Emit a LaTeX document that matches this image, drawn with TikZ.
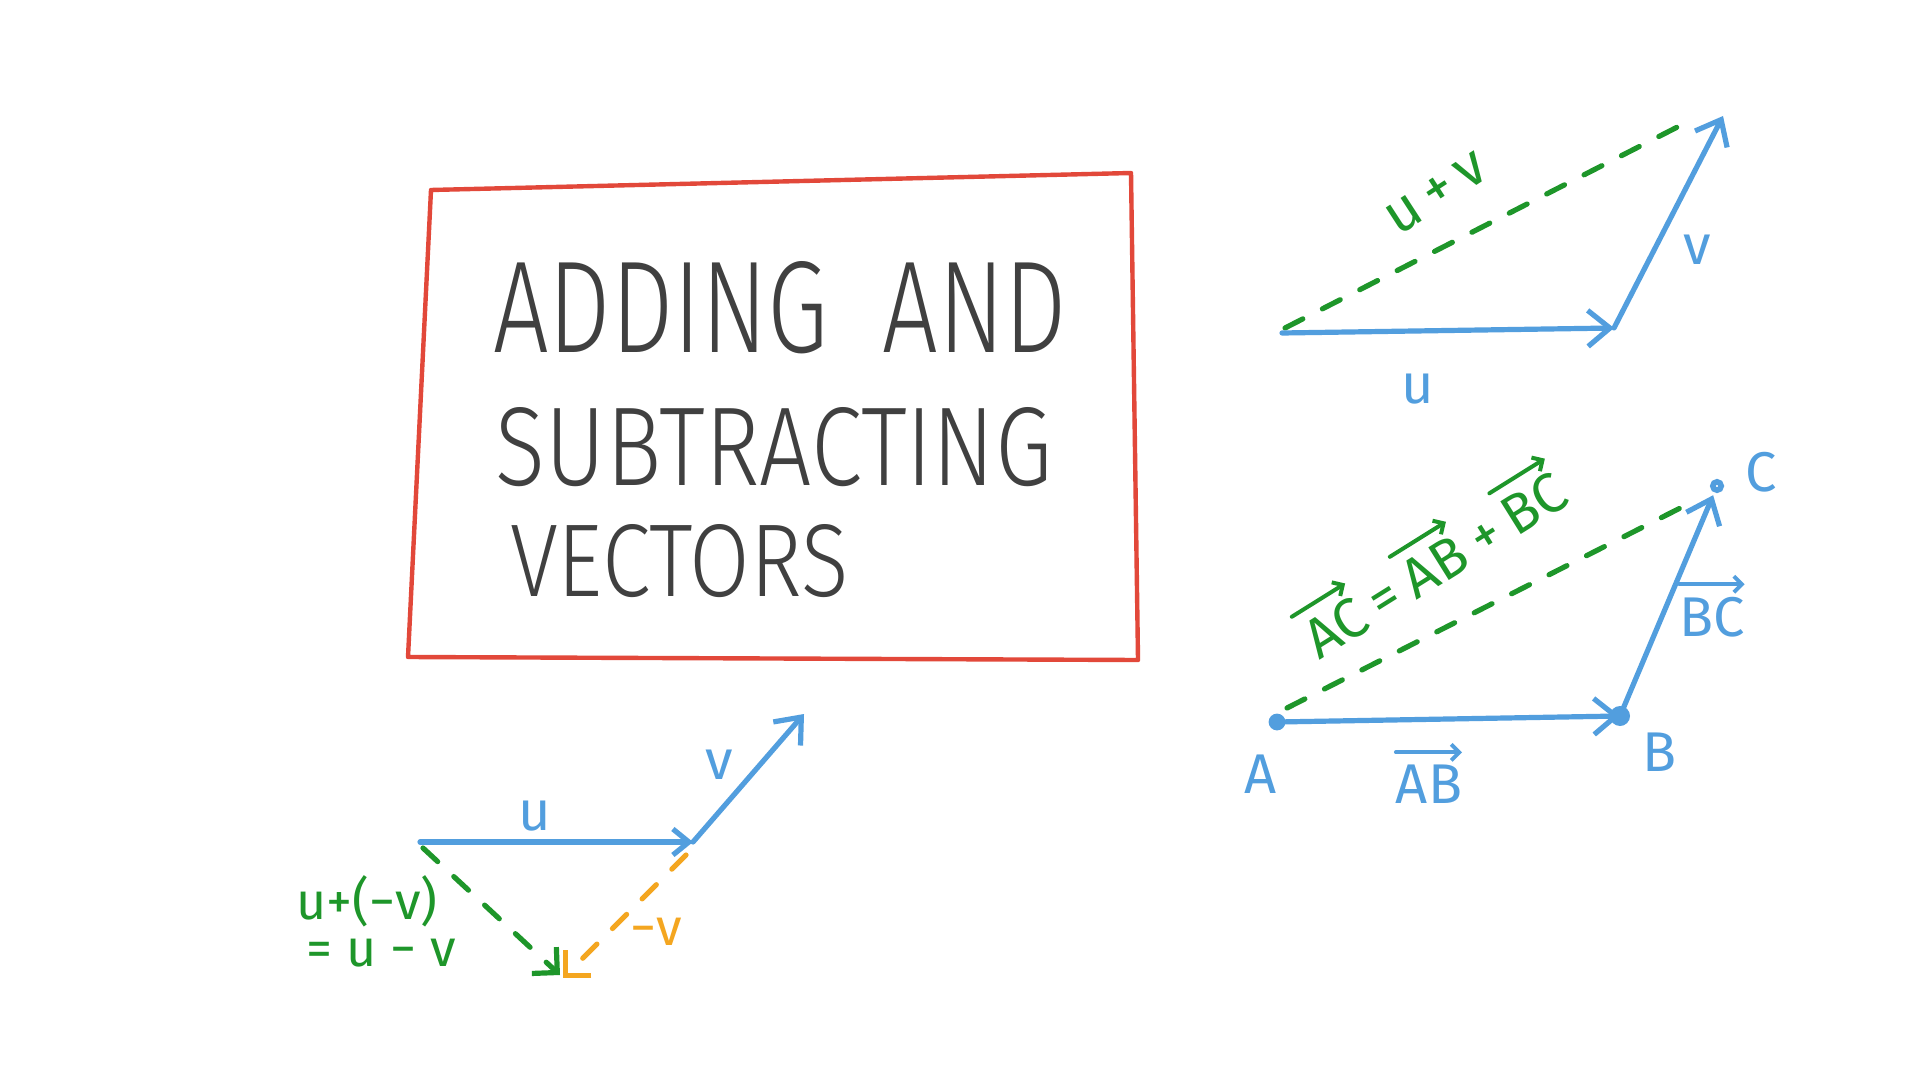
\documentclass[tikz,border=0pt]{standalone}
\usepackage{graphicx}
\usepackage{fontspec}
\setmainfont{Fira Sans}
\IfFontExistsTF{Fira Sans Light}{\newfontfamily\titlefont{Fira Sans Light}}{%
  \IfFontExistsTF{Open Sans Light}{\newfontfamily\titlefont{Open Sans Light}}{%
    \IfFontExistsTF{Lato Light}{\newfontfamily\titlefont{Lato Light}}{%
      \newfontfamily\titlefont{Fira Sans}}}}
\usetikzlibrary{arrows.meta,calc}
\definecolor{vblue}{RGB}{82,158,222}
\definecolor{vgreen}{RGB}{30,150,42}
\definecolor{vorange}{RGB}{244,166,32}
\definecolor{vred}{RGB}{226,72,58}
\definecolor{ink}{RGB}{64,64,64}
\newcommand\overarr[2]{\draw[vecarr, draw=#2]
  ($(#1.north west)!-0.32!(#1.south west)$) -- ($(#1.north east)!-0.32!(#1.south east)$);}
\begin{document}
\begin{tikzpicture}[x=0.5pt,y=-0.5pt,
  every node/.style={inner sep=0pt, outer sep=0pt},
  pen/.style={line width=2.6pt, line cap=round, line join=round},
  bluepen/.style={pen, draw=vblue},
  greenpen/.style={pen, draw=vgreen, dash pattern=on 10pt off 11pt},
  orangepen/.style={pen, draw=vorange, dash pattern=on 10pt off 11pt},
  barb/.style={-{Straight Barb[length=11pt,width=18pt]}},
  smallbarb/.style={-{Straight Barb[length=8pt,width=13pt]}},
  rightbarb/.style={-{Straight Barb[length=9pt,width=18pt]}},
  vecarr/.style={line width=2pt, line cap=round, line join=round,
    -{Straight Barb[length=4pt,width=8pt]}},
  bluelab/.style={text=vblue, font=\fontsize{28}{30}\selectfont},
  greenlab/.style={text=vgreen, font=\fontsize{26}{28}\selectfont},
  orangelab/.style={text=vorange, font=\fontsize{26}{28}\selectfont},
  titleline/.style={text=ink, font=\titlefont},
  chain/.style={greenlab, anchor=base west, font=\fontsize{28}{30}\selectfont},
]
\fill[white] (0,0) rectangle (1920,1080);
\useasboundingbox (0,0) rectangle (1920,1080);

% title frame
\draw[vred, line width=2.2pt, line join=round, line cap=round]
  (431,190) -- (1131,173) -- (1138,660) -- (408,657) -- cycle;
\node[titleline] (t1) at (780,307.5) {\resizebox{287pt}{45.5pt}{ADDING\hspace{0.55em}AND}};
\node[titleline] (t2) at (774,447) {\resizebox{278pt}{39pt}{SUBTRACTING}};
\node[titleline] (t3) at (679.5,561) {\resizebox{169.5pt}{36pt}{VECTORS}};

% top right: u + v
\coordinate (tu0) at (1282,333);
\coordinate (tu1) at (1614,328);
\coordinate (tv1) at (1723,116);
\coordinate (tg0) at (1285,328);
\coordinate (tg1) at (1695,118);
\draw[greenpen] (tg0) -- (tg1);
\draw[bluepen, barb] (tu0) -- (tu1);
\draw[bluepen, barb] (tu1) -- (tv1);
\node[greenlab, rotate=33, font=\fontsize{29}{30}\selectfont] (tuv) at (1437,194) {u\kern5pt+\kern5pt v};
\node[bluelab] (tul) at (1418,389) {u};
\node[bluelab] (tvl) at (1697,250) {v};

% bottom right: A, B, C
\coordinate (A) at (1277,722);
\coordinate (B) at (1620,716);
\coordinate (C) at (1717,486);
\coordinate (ga) at (1287,708);
\coordinate (gc) at (1696,500);
\draw[greenpen] (ga) -- (gc);
\draw[bluepen, barb] (A) -- (B);
\draw[bluepen, barb, shorten >=5pt] (B) -- (C);
\fill[vblue] (A) circle (4.2pt);
\fill[vblue] (B) circle (5pt);
\draw[vblue, line width=2.8pt] (C) circle (2.1pt);

\begin{scope}[shift={(1445,560)}, rotate=32, transform shape]
  \node[chain] (fAC) at (-160,19) {AC};
  \node[chain] (feq) at (fAC.base east) {\kern6pt=\kern6pt};
  \node[chain] (fAB) at (feq.base east) {AB};
  \node[chain] (fplus) at (fAB.base east) {\kern6pt+\kern6pt};
  \node[chain] (fBC) at (fplus.base east) {BC};
\end{scope}
\overarr{fAC}{vgreen}
\overarr{fAB}{vgreen}
\overarr{fBC}{vgreen}

\node[bluelab] (Al) at (1261,774) {A};
\node[bluelab] (ABl) at (1429,784) {AB};
\overarr{ABl}{vblue}
\node[bluelab] (Bl) at (1659,752) {B};
\node[bluelab] (Cl) at (1761,472) {C};
\node[bluelab] (BCl) at (1712,617) {BC};
\overarr{BCl}{vblue}

% bottom left: u - v
\coordinate (lu0) at (420,842);
\coordinate (lu1) at (693,842);
\coordinate (lv1) at (804,714);
\coordinate (lg0) at (423,848);
\coordinate (lg1) at (560,975);
\coordinate (lo0) at (686,855);
\coordinate (lo1) at (563,978);
\draw[bluepen, smallbarb] (lu0) -- (lu1);
\draw[bluepen, barb] (lu1) -- (lv1);
\draw[greenpen, rightbarb] (lg0) -- (lg1);
\draw[orangepen, rightbarb] (lo0) -- (lo1);
\node[bluelab] (lul) at (535,816) {u};
\node[bluelab] (lvl) at (719,765) {v};
\node[greenlab] (diff1) at (367,901) {u+(−v)};
\node[greenlab] (diff2) at (381,953) {= u − v};
\node[orangelab] (negv) at (656,932) {−v};
\end{tikzpicture}
\end{document}
